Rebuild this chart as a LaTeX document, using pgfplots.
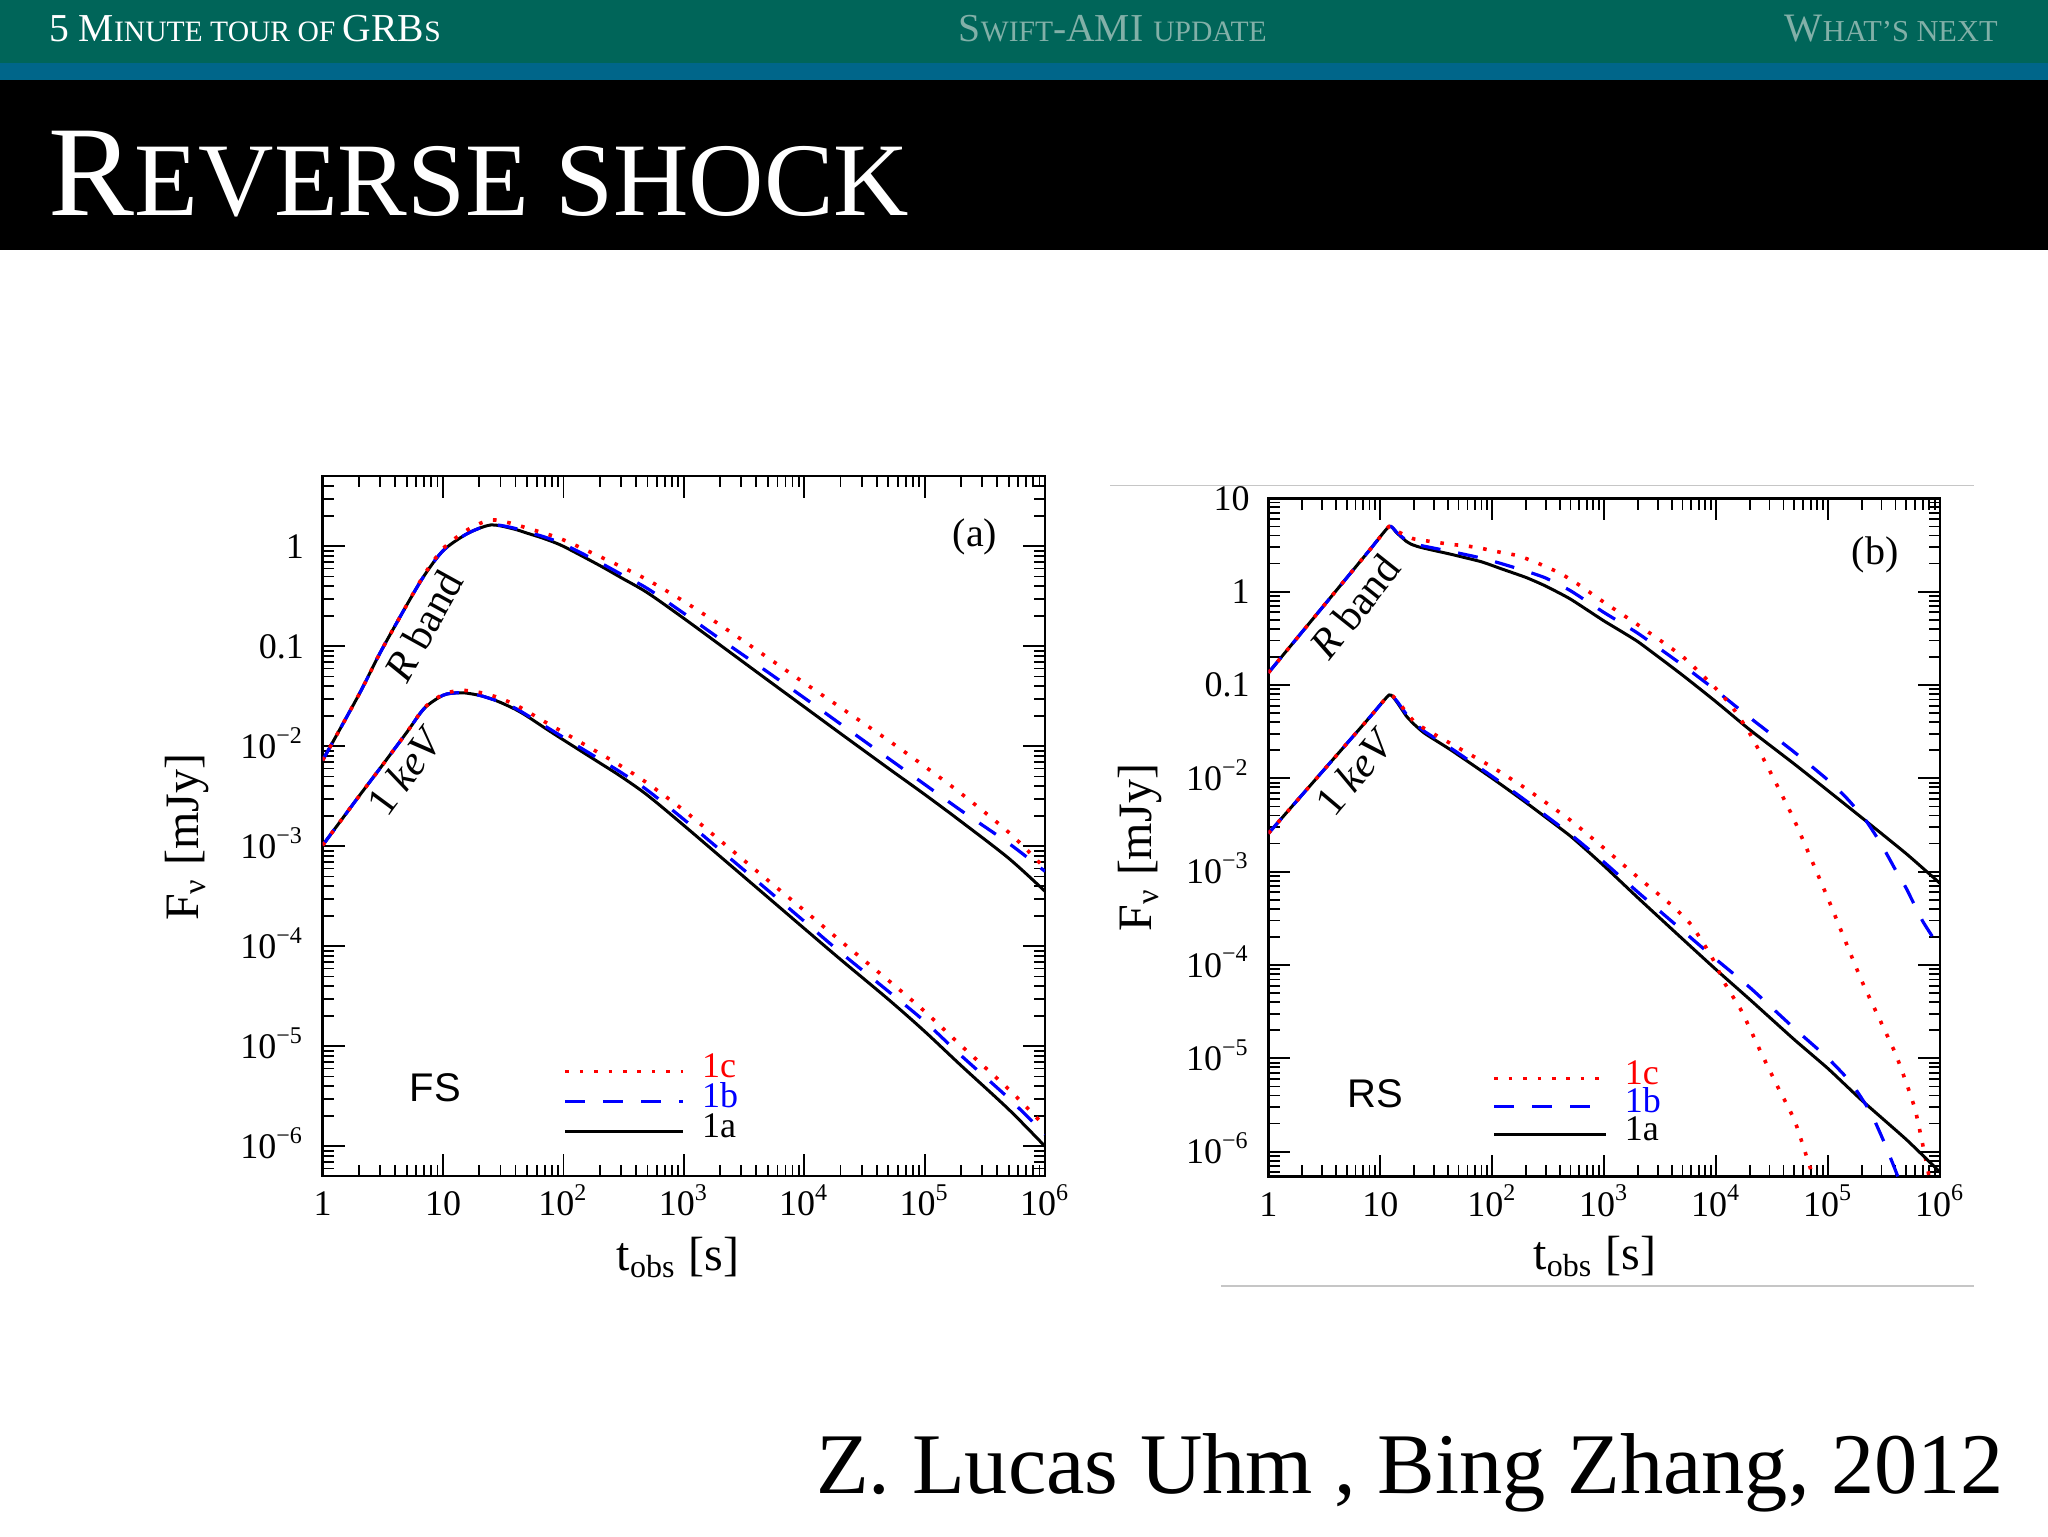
\documentclass[border=0pt]{standalone}
\usepackage{fontspec}
\setmainfont{Liberation Serif}
\setsansfont{Liberation Sans}
\usepackage{pgfplots}
\pgfplotsset{compat=1.18}
\definecolor{hdrgreen}{RGB}{0,101,89}
\definecolor{hdrteal}{RGB}{0,102,138}
\definecolor{hdrfade}{RGB}{130,176,168}
\newcommand{\ep}[1]{10\textsuperscript{#1}}
\newcommand{\fs}[1]{\fontsize{#1}{#1}\selectfont}
\tikzset{
 curveA/.style={black, line width=0.75pt},
 curveB/.style={blue, line width=0.8pt, dash pattern=on 5pt off 4.5pt},
 curveC/.style={red, line width=0.9pt, dash pattern=on 0.9pt off 2.7pt},
}

\begin{document}
\begin{tikzpicture}
% slide background and header
\fill[white] (0pt,0pt) rectangle (512pt,384pt);
\fill[hdrgreen] (0pt,368.2pt) rectangle (512pt,384pt);
\fill[hdrteal] (0pt,364pt) rectangle (512pt,368.2pt);
\fill[black] (0pt,321.5pt) rectangle (512pt,364pt);
\node[anchor=base west, inner sep=0pt, text=white] at (12.08pt,373.6pt)
  {\fs{9.9}5 M\fs{7.4}INUTE TOUR OF \fs{9.9}GRB\fs{7.4}S};
\node[anchor=base, inner sep=0pt, text=hdrfade] at (278.2pt,373.6pt)
  {\fs{9.9}S\fs{7.4}WIFT\fs{9.9}-AMI \fs{7.4}UPDATE};
\node[anchor=base east, inner sep=0pt, text=hdrfade] at (499.6pt,373.6pt)
  {\fs{10.1}W\fs{7.6}HAT’S NEXT};
\node[anchor=base west, inner sep=0pt, text=white] at (12.05pt,330.25pt)
  {\fs{32.2}R\fs{26.1}EVERSE SHOCK};
% thin grey rules around panel (b)
\draw[gray!45, line width=0.4pt] (277.5pt,262.6pt) -- (493.4pt,262.6pt);
\draw[gray!45, line width=0.4pt] (305.2pt,62.5pt) -- (493.4pt,62.5pt);
% citation
\node[anchor=base east, inner sep=0pt, font=\fs{21.6}] at (501.2pt,10.75pt)
  {Z. Lucas Uhm , Bing Zhang, 2012};

% ---------------- panel (a) ----------------
\begin{axis}[
  at={(80.65pt,90pt)}, anchor=south west,
  xmode=log, ymode=log, scale only axis,
  width=180.6pt, height=175pt,
  xmin=1, xmax=1e6, ymin=5.05e-7, ymax=5.05,
  axis line style={line width=0.6pt},
  tick align=inside, tick pos=both,
  major tick length=5.5pt, minor tick length=2.8pt,
  tick style={line width=0.45pt, black},
  xtick={1,10,100,1000,1e4,1e5,1e6},
  xticklabels={1,10,\ep{2},\ep{3},\ep{4},\ep{5},\ep{6}},
  minor xtick={2,3,4,5,6,7,8,9,20,30,40,50,60,70,80,90,200,300,400,500,600,700,800,900,2000,3000,4000,5000,6000,7000,8000,9000,2e4,3e4,4e4,5e4,6e4,7e4,8e4,9e4,2e5,3e5,4e5,5e5,6e5,7e5,8e5,9e5},
  ytick={1e-6,1e-5,1e-4,1e-3,1e-2,0.1,1},
  yticklabels={\ep{−6},\ep{−5},\ep{−4},\ep{−3},\ep{−2},0.1,1},
  minor ytick={6e-7,7e-7,8e-7,9e-7,2e-6,3e-6,4e-6,5e-6,6e-6,7e-6,8e-6,9e-6,2e-5,3e-5,4e-5,5e-5,6e-5,7e-5,8e-5,9e-5,2e-4,3e-4,4e-4,5e-4,6e-4,7e-4,8e-4,9e-4,2e-3,3e-3,4e-3,5e-3,6e-3,7e-3,8e-3,9e-3,0.02,0.03,0.04,0.05,0.06,0.07,0.08,0.09,0.2,0.3,0.4,0.5,0.6,0.7,0.8,0.9,2,3,4,5},
  tick label style={font=\fs{9}},
  xticklabel style={anchor=base, yshift=-9.9pt, inner sep=0pt},
  yticklabel style={anchor=base east, xshift=-4.5pt, yshift=-3pt, inner sep=0pt},
  xlabel={t\textsubscript{obs} [s]},
  ylabel={F\textsubscript{ν} [mJy]},
  xlabel style={font=\fs{12}, at={(rel axis cs:0.492,-0.1347)}, anchor=base},
  ylabel style={font=\fs{12}, at={(rel axis cs:-0.188,0.484)}, anchor=center},
  legend cell align=left,
  reverse legend,
  legend image code/.code={\draw[#1] (0pt,0pt) -- (29.5pt,0pt);},
  legend style={at={(rel axis cs:0.3337,0.171)}, anchor=north west,
    draw=none, fill=none, inner sep=0pt, outer sep=0pt, row sep=0pt, column sep=4.2pt, font=\fs{9},
    nodes={inner sep=0pt, text height=5.2pt, text depth=2.3pt}},
]
% R band
\addplot[curveA, smooth] coordinates {(1,7.24e-3)(2,3.28e-2)(3,8.59e-2)(5,0.259)(7,0.512)(10,0.904)(15,1.288)(20,1.517)(25,1.637)(30,1.603)(40,1.476)(50,1.355)(70,1.189)(100,1.0)(200,0.644)(300,0.488)(500,0.343)(1000,0.1905)(2000,0.1033)(5000,0.0458)(1e4,0.02483)(2e4,0.01346)(5e4,6.03e-3)(1e5,3.31e-3)(2e5,1.778e-3)(5e5,7.59e-4)(1e6,3.55e-4)};
\addlegendentry{1a}
\addplot[curveB, smooth] coordinates {(1,7.24e-3)(2,3.28e-2)(3,8.59e-2)(5,0.259)(7,0.512)(10,0.904)(15,1.288)(20,1.517)(25,1.637)(30,1.622)(40,1.51)(50,1.393)(70,1.239)(100,1.052)(200,0.690)(300,0.528)(500,0.378)(1000,0.214)(2000,0.1186)(5000,0.0551)(1e4,0.03055)(2e4,0.01675)(5e4,7.59e-3)(1e5,4.17e-3)(2e5,2.29e-3)(5e5,1.072e-3)(1e6,5.62e-4)};
\addlegendentry{\textcolor{blue}{1b}}
\addplot[curveC, smooth] coordinates {(1,7.24e-3)(2,3.28e-2)(3,8.59e-2)(5,0.259)(7,0.524)(10,0.946)(15,1.396)(20,1.683)(25,1.837)(30,1.799)(40,1.656)(50,1.521)(70,1.349)(100,1.161)(200,0.792)(300,0.628)(500,0.462)(1000,0.282)(2000,0.1637)(5000,0.0769)(1e4,0.04315)(2e4,0.02449)(5e4,0.01148)(1e5,6.31e-3)(2e5,3.39e-3)(5e5,1.38e-3)(1e6,6.03e-4)};
\addlegendentry{\textcolor{red}{1c}}
% 1 keV
\addplot[curveA, smooth, forget plot] coordinates {(1,1.023e-3)(2,3.16e-3)(3,6.03e-3)(5,1.38e-2)(7,2.40e-2)(10,3.24e-2)(13,3.43e-2)(15,3.43e-2)(20,3.24e-2)(25,2.99e-2)(30,2.75e-2)(40,2.34e-2)(50,2.0e-2)(70,1.53e-2)(100,1.16e-2)(200,6.84e-3)(300,5.01e-3)(500,3.24e-3)(1000,1.62e-3)(2000,7.94e-4)(5000,3.09e-4)(1e4,1.51e-4)(2e4,7.41e-5)(5e4,2.95e-5)(1e5,1.413e-5)(2e5,6.46e-6)(5e5,2.34e-6)(1e6,1.0e-6)};
\addplot[curveB, smooth, forget plot] coordinates {(1,1.023e-3)(2,3.16e-3)(3,6.03e-3)(5,1.38e-2)(7,2.40e-2)(10,3.24e-2)(13,3.43e-2)(15,3.43e-2)(20,3.24e-2)(25,2.99e-2)(30,2.79e-2)(40,2.40e-2)(50,2.05e-2)(70,1.60e-2)(100,1.23e-2)(200,7.41e-3)(300,5.50e-3)(500,3.63e-3)(1000,1.86e-3)(2000,9.23e-4)(5000,3.63e-4)(1e4,1.78e-4)(2e4,8.71e-5)(5e4,3.55e-5)(1e5,1.778e-5)(2e5,8.13e-6)(5e5,3.02e-6)(1e6,1.318e-6)};
\addplot[curveC, smooth, forget plot] coordinates {(1,1.023e-3)(2,3.16e-3)(3,6.03e-3)(5,1.38e-2)(7,2.43e-2)(10,3.31e-2)(13,3.59e-2)(15,3.63e-2)(20,3.47e-2)(25,3.24e-2)(30,3.02e-2)(40,2.60e-2)(50,2.24e-2)(70,1.76e-2)(100,1.38e-2)(200,8.51e-3)(300,6.38e-3)(500,4.27e-3)(1000,2.29e-3)(2000,1.148e-3)(5000,4.57e-4)(1e4,2.29e-4)(2e4,1.135e-4)(5e4,4.57e-5)(1e5,2.24e-5)(2e5,1.023e-5)(5e5,3.72e-6)(1e6,1.585e-6)};
\node[rotate=61, font=\fs{10.5}] at (axis cs:6.9,0.161) {\textit{R} band};
\node[rotate=53.6, font=\fs{10.5}] at (axis cs:4.86,5.71e-3) {1 \textit{keV}};
\node[font=\fs{10}] at (axis cs:2.62e5,1.25) {(a)};
\node[font=\sffamily\fs{10}] at (axis cs:8.63,3.84e-6) {FS};
\end{axis}

% ---------------- panel (b) ----------------
\begin{axis}[
  at={(317.1pt,89.875pt)}, anchor=south west,
  xmode=log, ymode=log, scale only axis,
  width=167.9pt, height=169.55pt,
  xmin=1, xmax=1e6, ymin=5.42e-7, ymax=10,
  axis line style={line width=0.6pt},
  tick align=inside, tick pos=both,
  major tick length=5.5pt, minor tick length=2.8pt,
  tick style={line width=0.45pt, black},
  xtick={1,10,100,1000,1e4,1e5,1e6},
  xticklabels={1,10,\ep{2},\ep{3},\ep{4},\ep{5},\ep{6}},
  minor xtick={2,3,4,5,6,7,8,9,20,30,40,50,60,70,80,90,200,300,400,500,600,700,800,900,2000,3000,4000,5000,6000,7000,8000,9000,2e4,3e4,4e4,5e4,6e4,7e4,8e4,9e4,2e5,3e5,4e5,5e5,6e5,7e5,8e5,9e5},
  ytick={1e-6,1e-5,1e-4,1e-3,1e-2,0.1,1,10},
  yticklabels={\ep{−6},\ep{−5},\ep{−4},\ep{−3},\ep{−2},0.1,1,10},
  minor ytick={6e-7,7e-7,8e-7,9e-7,2e-6,3e-6,4e-6,5e-6,6e-6,7e-6,8e-6,9e-6,2e-5,3e-5,4e-5,5e-5,6e-5,7e-5,8e-5,9e-5,2e-4,3e-4,4e-4,5e-4,6e-4,7e-4,8e-4,9e-4,2e-3,3e-3,4e-3,5e-3,6e-3,7e-3,8e-3,9e-3,0.02,0.03,0.04,0.05,0.06,0.07,0.08,0.09,0.2,0.3,0.4,0.5,0.6,0.7,0.8,0.9,2,3,4,5,6,7,8,9},
  tick label style={font=\fs{9}},
  xticklabel style={anchor=base, yshift=-9.9pt, inner sep=0pt},
  yticklabel style={anchor=base east, xshift=-4.5pt, yshift=-3pt, inner sep=0pt},
  xlabel={t\textsubscript{obs} [s]},
  ylabel={F\textsubscript{ν} [mJy]},
  xlabel style={font=\fs{12}, at={(rel axis cs:0.486,-0.1364)}, anchor=base},
  ylabel style={font=\fs{12}, at={(rel axis cs:-0.191,0.485)}, anchor=center},
  legend cell align=left,
  reverse legend,
  legend image code/.code={\draw[#1] (0pt,0pt) -- (28pt,0pt);},
  legend style={at={(rel axis cs:0.3337,0.165)}, anchor=north west,
    draw=none, fill=none, inner sep=0pt, outer sep=0pt, row sep=0pt, column sep=4.2pt, font=\fs{9},
    nodes={inner sep=0pt, text height=4.9pt, text depth=2.1pt}},
]
% R band
\addplot[curveA, smooth, tension=0.3] coordinates {(1,0.135)(3,0.667)(8,2.78)(12,5.01)(14,4.27)(17,3.47)(19,3.21)(22,3.02)(29,2.79)(43,2.51)(80,2.09)(120,1.76)(200,1.42)(300,1.148)(500,0.832)(1000,0.484)(2000,0.291)(5000,0.1276)(1e4,0.0659)(2e4,0.0331)(5e4,0.01422)(1e5,7.36e-3)(2e5,3.79e-3)(5e5,1.556e-3)(1e6,7.5e-4)};
\addlegendentry{1a}
\addplot[curveB, smooth, tension=0.3] coordinates {(1,0.135)(3,0.667)(8,2.78)(12,5.01)(14,4.32)(17,3.55)(20,3.24)(29,2.95)(43,2.69)(80,2.29)(120,2.0)(200,1.66)(300,1.40)(500,1.023)(1000,0.596)(2000,0.358)(5000,0.1637)(1e4,0.0871)(2e4,0.0447)(5e4,0.01905)(1e5,9.55e-3)(1.5e5,5.96e-3)(2.2e5,3.47e-3)(3e5,1.95e-3)(4e5,1.047e-3)(5e5,6.61e-4)(7e5,2.95e-4)(1e6,1.514e-4)};
\addlegendentry{\textcolor{blue}{1b}}
\addplot[curveC, smooth, tension=0.3] coordinates {(1,0.135)(3,0.667)(8,2.78)(12,5.01)(14,4.47)(17,3.98)(20,3.67)(29,3.43)(43,3.21)(60,3.08)(80,2.91)(120,2.63)(170,2.43)(250,2.04)(400,1.585)(600,1.175)(1000,0.767)(2000,0.441)(5000,0.2023)(1e4,0.0912)(1.4e4,0.0575)(2e4,0.0302)(3e4,0.01213)(5e4,3.55e-3)(1e5,5.13e-4)(2e5,6.76e-5)(4e5,1.122e-5)(6e5,2.82e-6)(8e5,5.37e-7)};
\addlegendentry{\textcolor{red}{1c}}
% 1 keV
\addplot[curveA, smooth, tension=0.3, forget plot] coordinates {(1,2.57e-3)(3,1.161e-2)(8,4.48e-2)(12,7.82e-2)(14,6.61e-2)(17,4.68e-2)(20,3.80e-2)(25,3.02e-2)(43,2.0e-2)(100,1.0e-2)(200,5.50e-3)(500,2.40e-3)(1000,1.148e-3)(2000,5.25e-4)(5000,1.905e-4)(1e4,8.91e-5)(2e4,4.27e-5)(5e4,1.585e-5)(1e5,7.76e-6)(2e5,3.55e-6)(5e5,1.35e-6)(1e6,6.03e-7)};
\addplot[curveB, smooth, tension=0.3, forget plot] coordinates {(1,2.57e-3)(3,1.161e-2)(8,4.48e-2)(12,7.82e-2)(14,6.76e-2)(17,4.90e-2)(20,3.98e-2)(25,3.16e-2)(43,2.09e-2)(100,1.047e-2)(200,5.75e-3)(500,2.51e-3)(1000,1.259e-3)(2000,6.03e-4)(5000,2.34e-4)(1e4,1.148e-4)(2e4,5.75e-5)(5e4,2.09e-5)(1e5,1.0e-5)(1.6e5,5.50e-6)(2.4e5,2.63e-6)(3.2e5,1.23e-6)(4e5,6.31e-7)(4.4e5,4.68e-7)};
\addplot[curveC, smooth, tension=0.3, forget plot] coordinates {(1,2.57e-3)(3,1.161e-2)(8,4.48e-2)(12,7.82e-2)(14,6.92e-2)(17,5.13e-2)(20,4.07e-2)(25,3.39e-2)(43,2.34e-2)(100,1.318e-2)(200,7.76e-3)(500,3.55e-3)(1000,1.778e-3)(2000,8.71e-4)(4000,4.37e-4)(6000,2.69e-4)(9000,1.259e-4)(1.2e4,6.31e-5)(1.7e4,3.16e-5)(2.5e4,1.175e-5)(3.5e4,5.13e-6)(5e4,2.19e-6)(6.5e4,8.51e-7)(7.5e4,5.01e-7)};
\node[rotate=51.5, font=\fs{10.5}] at (axis cs:5.94,0.69) {\textit{R} band};
\node[rotate=49.8, font=\fs{10.5}] at (axis cs:5.94,1.178e-2) {1 \textit{keV}};
\node[font=\fs{10}] at (axis cs:2.63e5,2.47) {(b)};
\node[font=\sffamily\fs{10}] at (axis cs:8.96,4.22e-6) {RS};
\end{axis}
\pgfresetboundingbox
\useasboundingbox (0pt,0pt) rectangle (512pt,384pt);
\end{tikzpicture}
\end{document}
